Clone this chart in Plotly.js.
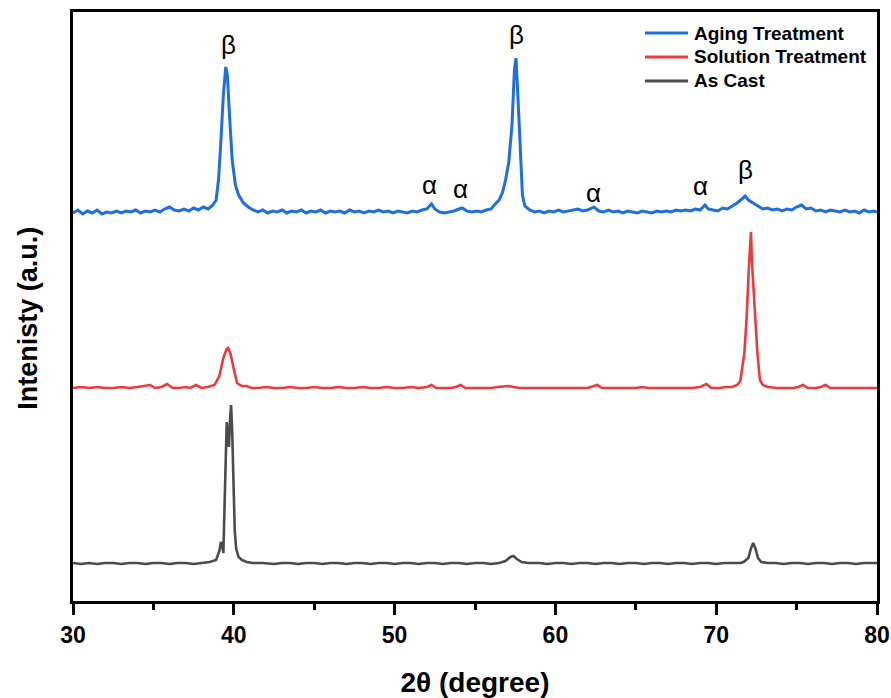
<!DOCTYPE html>
<html>
<head>
<meta charset="utf-8">
<script src="https://cdn.plot.ly/plotly-3.0.1.min.js"></script>
<style>html,body{margin:0;padding:0;background:#fff;}#chart{width:891px;height:698px;}</style>
</head>
<body>
<div id="chart"></div>
<script>
// 2θ (degree) and intensity (a.u., stacked as plotted)
const agingX = [30.0,30.3,30.6,30.9,31.2,31.5,31.8,32.1,32.4,32.7,33.0,33.3,33.6,33.9,34.2,34.5,34.8,35.1,35.4,35.7,36.0,36.3,36.6,36.9,37.2,37.5,37.8,38.1,38.4,38.7,38.9,39.05,39.2,39.35,39.5,39.6,39.75,39.9,40.1,40.3,40.6,40.9,41.2,41.5,41.8,42.1,42.4,42.7,43.0,43.3,43.6,43.9,44.2,44.5,44.8,45.1,45.4,45.7,46.0,46.3,46.6,46.9,47.2,47.5,47.8,48.1,48.4,48.7,49.0,49.3,49.6,49.9,50.2,50.5,50.8,51.1,51.4,51.7,52.0,52.3,52.5,52.8,53.1,53.4,53.7,54.0,54.2,54.5,54.8,55.1,55.4,55.7,56.0,56.2,56.5,56.7,56.9,57.1,57.3,57.45,57.55,57.65,57.8,57.95,58.1,58.4,58.7,59.0,59.3,59.6,59.9,60.2,60.5,60.8,61.1,61.4,61.7,62.0,62.4,62.7,63.0,63.3,63.6,63.9,64.2,64.5,64.8,65.1,65.4,65.7,66.0,66.3,66.6,66.9,67.2,67.5,67.8,68.1,68.4,68.7,69.0,69.3,69.5,69.8,70.1,70.4,70.7,71.0,71.3,71.6,71.8,72.0,72.3,72.6,72.9,73.2,73.5,73.8,74.1,74.4,74.7,75.0,75.3,75.6,75.9,76.2,76.5,76.8,77.1,77.4,77.7,78.0,78.3,78.6,78.9,79.2,79.5,79.8,80.0];
const agingY = [388,391,387,390,388,391,387,389,388,390,388,390,389,391,388,390,389,391,389,392,394,391,390,392,390,393,391,394,392,396,401,421,461,506,534,526,481,441,416,406,398,394,391,389,391,388,390,389,391,388,390,389,391,388,390,389,391,388,390,389,390,388,391,389,390,388,390,389,391,389,390,388,390,389,388,390,389,391,392,397,392,389,388,389,390,392,393,390,389,390,389,391,392,396,401,408,421,439,476,531,543,511,451,406,395,391,389,390,388,390,389,391,389,390,391,392,390,391,394,390,389,391,389,390,388,390,389,388,390,389,388,390,389,390,389,391,390,391,390,392,391,396,392,391,390,393,392,395,398,402,405,401,398,395,392,393,391,392,390,392,391,394,396,392,393,390,391,389,391,390,389,391,389,390,388,391,389,390,389];

const solutionX = [30.0,30.5,31.0,31.5,32.0,32.5,33.0,33.5,34.0,34.5,34.8,35.1,35.5,35.85,36.2,36.6,37.0,37.3,37.65,38.0,38.4,38.8,39.1,39.35,39.55,39.65,39.8,40.0,40.2,40.5,40.8,41.1,41.5,42.0,42.5,43.0,43.5,44.0,44.5,45.0,45.5,46.0,46.5,47.0,47.5,48.0,48.5,49.0,49.5,50.0,50.5,51.0,51.5,52.0,52.3,52.6,53.0,53.5,53.8,54.1,54.4,55.0,55.5,56.0,56.4,56.8,57.1,57.4,57.8,58.3,59.0,59.5,60.0,60.5,61.0,61.5,62.0,62.6,62.9,63.5,64.0,64.5,65.0,65.4,65.8,66.5,67.0,67.5,68.0,68.5,69.0,69.4,69.7,70.2,70.6,71.0,71.3,71.5,71.75,71.9,72.02,72.1,72.16,72.22,72.3,72.38,72.48,72.56,72.72,72.9,73.2,73.8,74.3,74.8,75.1,75.4,75.7,76.2,76.5,76.8,77.1,77.6,78.1,78.6,79.1,79.6,80.0];
const solutionY = [213,214,213,214,213,213,214,213,214,215,216,213,214,217,213,213,214,213,216,213,214,216,225,243,252,253,247,232,218,215,215,213,213,214,213,213,214,213,213,214,213,213,214,213,213,214,213,213,214,213,213,214,213,214,216,213,213,213,214,216,213,213,213,213,214,215,215,214,213,213,213,213,213,213,213,213,213,216,213,213,213,213,213,214,213,213,213,213,213,213,214,217,213,213,214,214,216,220,248,285,330,360,369,340,318,300,270,248,221,216,214,213,213,213,214,216,213,213,214,216,213,213,213,213,213,213,213];

const castX = [30.0,30.5,31.0,31.5,32.0,32.5,33.0,33.5,34.0,34.5,35.0,35.5,36.0,36.5,37.0,37.5,38.0,38.5,38.9,39.1,39.2,39.28,39.35,39.42,39.5,39.56,39.62,39.7,39.76,39.83,39.9,39.98,40.06,40.15,40.3,40.5,40.8,41.2,41.8,42.5,43.0,43.5,44.0,44.5,45.0,45.5,46.0,46.5,47.0,47.5,48.0,48.5,49.0,49.5,50.0,50.5,51.0,51.5,52.0,52.5,53.0,53.5,54.0,54.5,55.0,55.5,56.0,56.5,56.9,57.2,57.4,57.6,57.9,58.3,59.0,59.5,60.0,60.5,61.0,61.5,62.0,62.5,63.0,63.5,64.0,64.5,65.0,65.5,66.0,66.5,67.0,67.5,68.0,68.5,69.0,69.5,70.0,70.5,71.0,71.5,71.7,72.0,72.15,72.3,72.45,72.6,72.8,73.2,73.7,74.2,74.7,75.2,75.7,76.2,76.7,77.2,77.7,78.2,78.7,79.2,79.7,80.0];
const castY = [38,37,38,37,38,38,37,38,38,37,38,38,37,38,38,37,38,39,41,50,59,56,48,90,160,179,168,154,180,196,170,110,70,52,44,41,39,38,38,37,38,38,37,38,38,37,38,38,37,38,38,37,38,38,37,38,38,37,38,38,37,38,38,37,38,38,37,38,40,44,45,42,39,38,38,37,38,38,37,38,38,37,38,38,37,38,38,37,38,38,37,38,38,37,38,38,37,38,38,38,39,43,52,58,52,43,39,38,38,37,38,38,37,38,38,37,38,38,37,38,38,38];

const seriesNames = ["Aging Treatment", "Solution Treatment", "As Cast"];
const seriesColors = ["#1f6fde", "#f0393c", "#4b4b4b"];

// phase labels: [2θ, intensity, symbol]
const phaseX = [39.64, 57.6, 71.8, 52.2, 54.1, 62.4, 69.0];
const phaseY = [556, 566, 431, 416, 412, 408, 415];
const phaseText = ["β", "β", "β", "α", "α", "α", "α"];

const xTicks = [30, 40, 50, 60, 70, 80];

const FONT = "Arial, Liberation Sans, sans-serif";

const traces = [
  {x: agingX, y: agingY, name: seriesNames[0], mode: "lines", line: {color: seriesColors[0], width: 3}},
  {x: solutionX, y: solutionY, name: seriesNames[1], mode: "lines", line: {color: seriesColors[1], width: 2.6}},
  {x: castX, y: castY, name: seriesNames[2], mode: "lines", line: {color: seriesColors[2], width: 2.6}}
];

const annotations = phaseX.map((x, i) => ({
  x: x, y: phaseY[i], xref: "x", yref: "y", text: phaseText[i], showarrow: false,
  font: {family: FONT, size: 26, color: "#000"},
  xanchor: "center", yanchor: "middle"
}));

// legend drawn as shapes + text (paper coordinates)
const legLineX0 = 0.7114, legLineX1 = 0.7649, legTextX = 0.7699;
const legRowY = [0.9643, 0.9236, 0.8829];
const shapes = seriesNames.map((n, i) => ({
  type: "line", xref: "paper", yref: "paper",
  x0: legLineX0, x1: legLineX1, y0: legRowY[i], y1: legRowY[i],
  line: {color: seriesColors[i], width: 3}
}));
seriesNames.forEach((n, i) => annotations.push({
  x: legTextX, y: legRowY[i], xref: "paper", yref: "paper", text: n, showarrow: false,
  xanchor: "left", yanchor: "middle",
  font: {family: FONT, size: 19, color: "#000", weight: "bold"}
}));

// y-axis title
annotations.push({
  x: -0.056, y: 0.481, xref: "paper", yref: "paper", text: "Intenisty (a.u.)", showarrow: false,
  textangle: -90, xanchor: "center", yanchor: "middle",
  font: {family: FONT, size: 27, color: "#000", weight: "bold"}
});

const layout = {
  width: 891, height: 698,
  margin: {l: 73, r: 14, t: 12, b: 97},
  paper_bgcolor: "#fff", plot_bgcolor: "#fff",
  showlegend: false,
  xaxis: {
    range: [30, 80], tickvals: xTicks, ticktext: xTicks.map(String),
    ticks: "outside", ticklen: 11, tickwidth: 3, tickcolor: "#000",
    minor: {dtick: 5, tick0: 30, ticks: "outside", ticklen: 6, tickwidth: 3, tickcolor: "#000"},
    showline: true, linewidth: 3, linecolor: "#000", mirror: true,
    showgrid: false, zeroline: false,
    tickfont: {family: FONT, size: 23, color: "#000", weight: "bold"},
    title: {text: "2θ (degree)", standoff: 28, font: {family: FONT, size: 28, color: "#000", weight: "bold"}}
  },
  yaxis: {
    range: [0, 589], showticklabels: false, ticks: "",
    showline: true, linewidth: 3, linecolor: "#000", mirror: true,
    showgrid: false, zeroline: false
  },
  shapes: shapes,
  annotations: annotations
};

Plotly.newPlot("chart", traces, layout, {displayModeBar: false, staticPlot: true});
</script>
</body>
</html>
